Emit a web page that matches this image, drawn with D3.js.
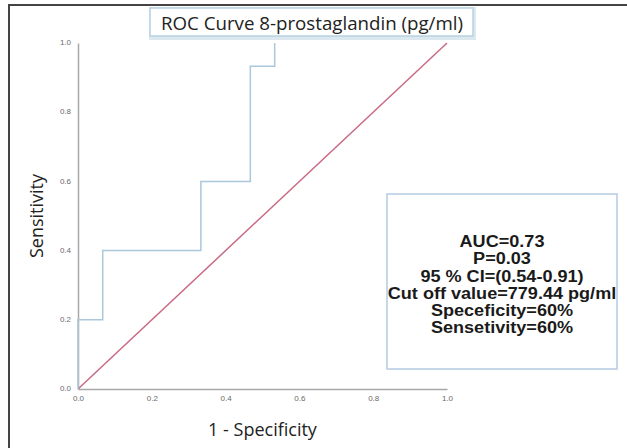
<!DOCTYPE html>
<html>
<head>
<meta charset="utf-8">
<script src="https://cdn.jsdelivr.net/npm/d3@7"></script>
<style>
  body { margin: 0; background: #fff; }
  .tick text { font-family: "Liberation Sans", Arial, sans-serif; font-size: 8px; fill: #6a6a6a; }
</style>
</head>
<body>
<div id="output"></div>
<script>
// ROC curve points (1 - specificity, sensitivity); the top edge at 1.0 is not drawn in the source
var fpr = [0, 0, 0.067, 0.067, 0.333, 0.333, 0.467, 0.467, 0.533, 0.533];
var tpr = [0, 0.2, 0.2, 0.4, 0.4, 0.6, 0.6, 0.933, 0.933, 1.0];
var refX = [0, 1];
var refY = [0, 1];
var tickValues = [0, 0.2, 0.4, 0.6, 0.8, 1.0];
var titleText = "ROC Curve 8-prostaglandin (pg/ml)";
var statsLines = ["AUC=0.73", "P=0.03", "95 % CI=(0.54-0.91)", "Cut off value=779.44 pg/ml", "Speceficity=60%", "Sensetivity=60%"];

var w = 627, h = 448;

var svg = d3.select("#output").append("svg")
    .attr("width", w)
    .attr("height", h);

// outer frame (only left and top edges visible)
svg.append("path")
    .attr("d", "M9," + h + "V5H" + w)
    .attr("fill", "none")
    .attr("stroke", "#444")
    .attr("stroke-width", 2);

var x = d3.scaleLinear().domain([0, 1]).range([78, 447]);
var y = d3.scaleLinear().domain([0, 1]).range([389, 43]);

var xAxis = d3.axisBottom(x)
    .tickValues(tickValues)
    .tickSize(0)
    .tickPadding(6)
    .tickFormat(d3.format(".1f"));

var yAxis = d3.axisLeft(y)
    .tickValues(tickValues)
    .tickSize(0)
    .tickPadding(7)
    .tickFormat(d3.format(".1f"));

var gx = svg.append("g")
    .attr("transform", "translate(0," + y(0) + ")")
    .call(xAxis);
var gy = svg.append("g")
    .attr("transform", "translate(" + x(0) + ",0)")
    .call(yAxis);
[gx, gy].forEach(function (g) {
    g.select(".domain").attr("stroke", "#a8a8a8").attr("stroke-width", 1.5);
});
gy.selectAll(".tick text").attr("dy", "0.2em");

var line = d3.line()
    .x(function (d) { return x(d[0]); })
    .y(function (d) { return y(d[1]); });

svg.append("path")
    .datum(d3.zip(refX, refY))
    .attr("d", line)
    .attr("fill", "none")
    .attr("stroke", "#c96a84")
    .attr("stroke-width", 1.5);

svg.append("path")
    .datum(d3.zip(fpr, tpr))
    .attr("d", line)
    .attr("fill", "none")
    .attr("stroke", "#a9c8dc")
    .attr("stroke-width", 1.5);

// axis titles
svg.append("text")
    .attr("x", x(0.5))
    .attr("y", 436)
    .attr("text-anchor", "middle")
    .attr("font-family", "Open Sans, sans-serif")
    .attr("font-size", 18)
    .attr("fill", "#222")
    .text("1 - Specificity");

svg.append("text")
    .attr("transform", "translate(43," + y(0.5) + ") rotate(-90)")
    .attr("text-anchor", "middle")
    .attr("font-family", "Open Sans, sans-serif")
    .attr("font-size", 18)
    .attr("fill", "#222")
    .text("Sensitivity");

// title box
svg.append("rect")
    .attr("x", 151).attr("y", 9).attr("width", 323).attr("height", 29)
    .attr("fill", "#fff")
    .attr("stroke", "#dbe8ef")
    .attr("stroke-width", 4);
svg.append("rect")
    .attr("x", 150).attr("y", 8).attr("width", 323).attr("height", 28)
    .attr("fill", "#fff")
    .attr("stroke", "#b6d2df")
    .attr("stroke-width", 1.5);
svg.append("text")
    .attr("x", 312)
    .attr("y", 30)
    .attr("text-anchor", "middle")
    .attr("font-family", "Open Sans, sans-serif")
    .attr("font-size", 18)
    .attr("fill", "#222")
    .attr("textLength", 302)
    .attr("lengthAdjust", "spacingAndGlyphs")
    .text(titleText);

// stats box
svg.append("rect")
    .attr("x", 387).attr("y", 194).attr("width", 230).attr("height", 175)
    .attr("fill", "#fff")
    .attr("stroke", "#b3cbe3")
    .attr("stroke-width", 1.5);

var stats = svg.append("g")
    .attr("transform", "translate(502,0) scale(1.13,1)");
stats.selectAll("text")
    .data(statsLines)
    .enter()
    .append("text")
    .attr("x", 0)
    .attr("y", function (d, i) { return 247 + i * 17.3; })
    .attr("text-anchor", "middle")
    .attr("font-family", "Liberation Sans, Arial, sans-serif")
    .attr("font-weight", "bold")
    .attr("font-size", 16)
    .attr("fill", "#1a1a1a")
    .text(function (d) { return d; });
</script>
</body>
</html>
